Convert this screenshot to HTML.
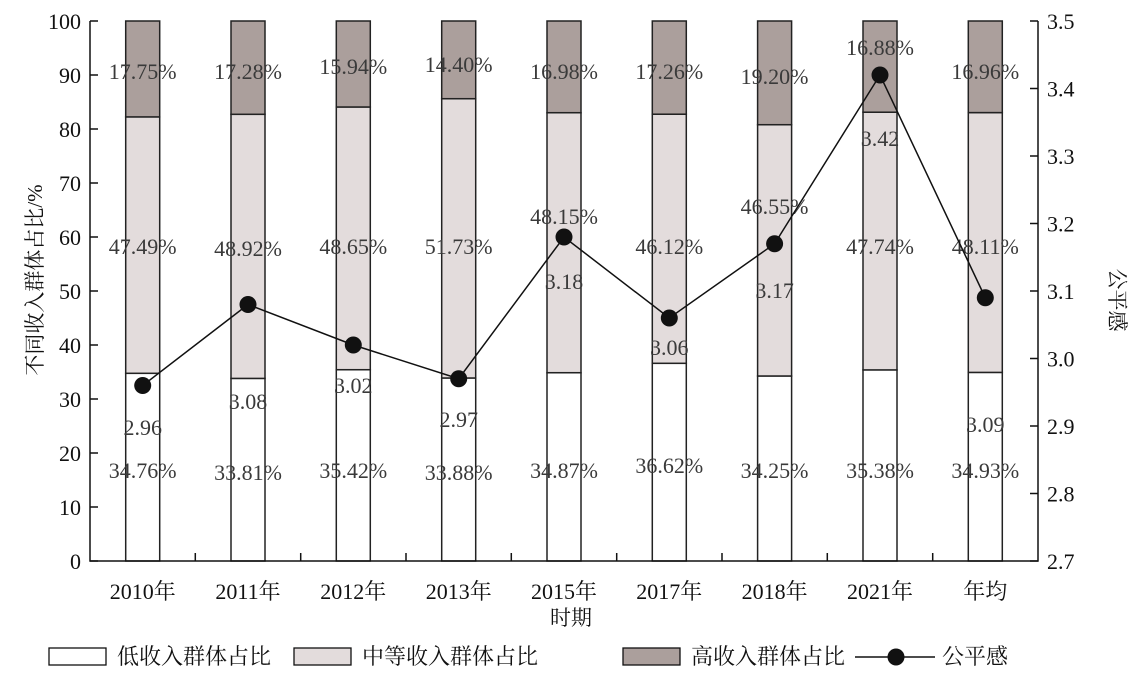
<!DOCTYPE html><html><head><meta charset="utf-8"><style>body{margin:0;background:#fff}svg{display:block}text{font-family:"Liberation Serif","Noto Serif CJK SC",serif}</style></head><body>
<svg width="1142" height="676" xmlns="http://www.w3.org/2000/svg">
<g stroke="#222" stroke-width="1.5">
<rect x="125.7" y="373.3" width="34" height="187.7" fill="#fff"/><rect x="125.7" y="116.9" width="34" height="256.4" fill="#e3dcdc"/><rect x="125.7" y="21" width="34" height="95.9" fill="#ab9f9c"/>
<rect x="231" y="378.4" width="34" height="182.6" fill="#fff"/><rect x="231" y="114.3" width="34" height="264.1" fill="#e3dcdc"/><rect x="231" y="21" width="34" height="93.3" fill="#ab9f9c"/>
<rect x="336.3" y="369.7" width="34" height="191.3" fill="#fff"/><rect x="336.3" y="107" width="34" height="262.7" fill="#e3dcdc"/><rect x="336.3" y="21" width="34" height="86" fill="#ab9f9c"/>
<rect x="441.7" y="378" width="34" height="183" fill="#fff"/><rect x="441.7" y="98.7" width="34" height="279.3" fill="#e3dcdc"/><rect x="441.7" y="21" width="34" height="77.7" fill="#ab9f9c"/>
<rect x="547" y="372.7" width="34" height="188.3" fill="#fff"/><rect x="547" y="112.7" width="34" height="260" fill="#e3dcdc"/><rect x="547" y="21" width="34" height="91.7" fill="#ab9f9c"/>
<rect x="652.3" y="363.3" width="34" height="197.7" fill="#fff"/><rect x="652.3" y="114.2" width="34" height="249.1" fill="#e3dcdc"/><rect x="652.3" y="21" width="34" height="93.2" fill="#ab9f9c"/>
<rect x="757.6" y="376" width="34" height="185" fill="#fff"/><rect x="757.6" y="124.7" width="34" height="251.3" fill="#e3dcdc"/><rect x="757.6" y="21" width="34" height="103.7" fill="#ab9f9c"/>
<rect x="863" y="369.9" width="34" height="191.1" fill="#fff"/><rect x="863" y="112.2" width="34" height="257.7" fill="#e3dcdc"/><rect x="863" y="21" width="34" height="91.2" fill="#ab9f9c"/>
<rect x="968.3" y="372.4" width="34" height="188.6" fill="#fff"/><rect x="968.3" y="112.6" width="34" height="259.8" fill="#e3dcdc"/><rect x="968.3" y="21" width="34" height="91.6" fill="#ab9f9c"/>
</g>
<g font-size="22" fill="#3a3a3a" text-anchor="middle">
<text x="142.7" y="79">17.75%</text><text x="248" y="79">17.28%</text><text x="353.3" y="74">15.94%</text><text x="458.7" y="72">14.40%</text><text x="564" y="79">16.98%</text><text x="669.3" y="79">17.26%</text><text x="774.6" y="84">19.20%</text><text x="880" y="55">16.88%</text><text x="985.3" y="79">16.96%</text>
<text x="142.7" y="254">47.49%</text><text x="248" y="256">48.92%</text><text x="353.3" y="254">48.65%</text><text x="458.7" y="254">51.73%</text><text x="564" y="224">48.15%</text><text x="669.3" y="254">46.12%</text><text x="774.6" y="214">46.55%</text><text x="880" y="254">47.74%</text><text x="985.3" y="254">48.11%</text>
<text x="142.7" y="478">34.76%</text><text x="248" y="480">33.81%</text><text x="353.3" y="478">35.42%</text><text x="458.7" y="480">33.88%</text><text x="564" y="478">34.87%</text><text x="669.3" y="473">36.62%</text><text x="774.6" y="478">34.25%</text><text x="880" y="478">35.38%</text><text x="985.3" y="478">34.93%</text>
<text x="142.7" y="435">2.96</text><text x="248" y="409">3.08</text><text x="353.3" y="393">3.02</text><text x="458.7" y="427">2.97</text><text x="564" y="289">3.18</text><text x="669.3" y="355">3.06</text><text x="774.6" y="298">3.17</text><text x="880" y="146">3.42</text><text x="985.3" y="432">3.09</text>
</g>
<g font-size="22" fill="#111" text-anchor="middle">
<text x="142.7" y="599">2010年</text><text x="248" y="599">2011年</text><text x="353.3" y="599">2012年</text><text x="458.7" y="599">2013年</text><text x="564" y="599">2015年</text><text x="669.3" y="599">2017年</text><text x="774.6" y="599">2018年</text><text x="880" y="599">2021年</text><text x="985.3" y="599">年均</text>
</g>
<polyline fill="none" stroke="#111" stroke-width="1.5" points="142.7,385.5 248,304.5 353.3,345 458.7,378.75 564,237 669.3,318 774.6,243.75 880,75 985.3,297.75"/>
<g fill="#111"><circle cx="142.7" cy="385.5" r="8.5"/><circle cx="248" cy="304.5" r="8.5"/><circle cx="353.3" cy="345" r="8.5"/><circle cx="458.7" cy="378.75" r="8.5"/><circle cx="564" cy="237" r="8.5"/><circle cx="669.3" cy="318" r="8.5"/><circle cx="774.6" cy="243.75" r="8.5"/><circle cx="880" cy="75" r="8.5"/><circle cx="985.3" cy="297.75" r="8.5"/></g>
<path d="M90 21V561H1038V21" fill="none" stroke="#111" stroke-width="1.5"/>
<g stroke="#111" stroke-width="1.5">
<path d="M90 561h8M90 507h8M90 453h8M90 399h8M90 345h8M90 291h8M90 237h8M90 183h8M90 129h8M90 75h8M90 21h8"/>
<path d="M1030 561h8M1030 493.5h8M1030 426h8M1030 358.5h8M1030 291h8M1030 223.5h8M1030 156h8M1030 88.5h8M1030 21h8"/>
<path d="M195.3 561v-8M300.7 561v-8M406 561v-8M511.3 561v-8M616.7 561v-8M722 561v-8M827.3 561v-8M932.7 561v-8"/>
</g>
<g font-size="22" fill="#111" text-anchor="end">
<text x="81" y="569">0</text><text x="81" y="515">10</text><text x="81" y="461">20</text><text x="81" y="407">30</text><text x="81" y="353">40</text><text x="81" y="299">50</text><text x="81" y="245">60</text><text x="81" y="191">70</text><text x="81" y="137">80</text><text x="81" y="83">90</text><text x="81" y="29">100</text>
</g>
<g font-size="22" fill="#111">
<text x="1047" y="569">2.7</text><text x="1047" y="501.5">2.8</text><text x="1047" y="434">2.9</text><text x="1047" y="366.5">3.0</text><text x="1047" y="299">3.1</text><text x="1047" y="231.5">3.2</text><text x="1047" y="164">3.3</text><text x="1047" y="96.5">3.4</text><text x="1047" y="29">3.5</text>
</g>
<text transform="translate(42,280) rotate(-90)" font-size="21" text-anchor="middle" fill="#111">不同收入群体占比/%</text>
<text transform="translate(1110,300) rotate(90)" font-size="21" text-anchor="middle" fill="#111">公平感</text>
<text x="571" y="625" font-size="21" text-anchor="middle" fill="#111">时期</text>
<rect x="49" y="648" width="57" height="17" fill="#fff" stroke="#111" stroke-width="1.3"/><text x="117" y="664" font-size="22" fill="#111">低收入群体占比</text>
<rect x="294" y="648" width="57" height="17" fill="#e3dcdc" stroke="#111" stroke-width="1.3"/><text x="362" y="664" font-size="22" fill="#111">中等收入群体占比</text>
<rect x="623" y="648" width="57" height="17" fill="#ab9f9c" stroke="#111" stroke-width="1.3"/><text x="691" y="664" font-size="22" fill="#111">高收入群体占比</text>
<line x1="855" x2="935" y1="657" y2="657" stroke="#111" stroke-width="1.5"/><circle cx="896" cy="657" r="8.5" fill="#111"/><text x="942" y="664" font-size="22" fill="#111">公平感</text>
</svg></body></html>
